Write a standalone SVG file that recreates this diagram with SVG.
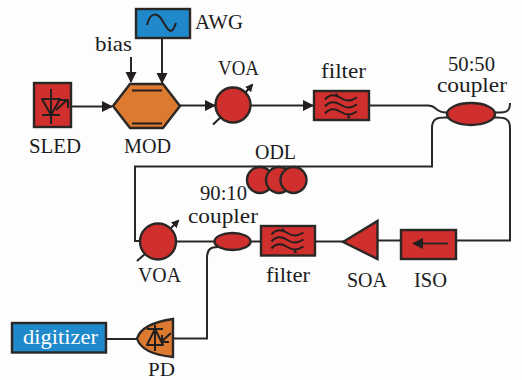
<svg xmlns="http://www.w3.org/2000/svg" width="522" height="380" viewBox="0 0 522 380">
<defs>
<style>
text{font-family:"Liberation Serif","DejaVu Serif",serif;font-size:21px;fill:#1c1c1c}
text.c{font-size:20px}
.w{fill:none;stroke:#2b2725;stroke-width:2;stroke-linejoin:miter}
.i{fill:none;stroke:#231f1e;stroke-width:2;stroke-linejoin:round}
.b{stroke:#2b2725;stroke-width:2.400;stroke-linejoin:miter}
.r{fill:#cf2f2d}.o{fill:#dc7a30}.u{fill:#2089cb}
.t{fill:#231f1e;stroke:none}
</style>
<marker id="a" markerUnits="userSpaceOnUse" markerWidth="12" markerHeight="12" refX="10" refY="6" orient="auto"><path d="M0 0.500L11 6L0 11.500Z" fill="#231f1e"/></marker>
<marker id="s" markerUnits="userSpaceOnUse" markerWidth="8" markerHeight="8" refX="6" refY="4" orient="auto"><path d="M0 0L8 4L0 8Z" fill="#231f1e"/></marker>
<g id="filt">
<path class="i" d="M-16 -6C-11 -12 -6 -11 -1 -8S8 -3 16 -8M-16 1C-11 -5 -6 -4 -1 -1S8 4 16 -1M-16 8C-11 2 -6 3 -1 6S8 11 16 6"/>
<path class="t" d="M-5 -13L-2 -9L-6 -9ZM7 9L10 12L6 13Z"/>
</g>
</defs>
<rect width="522" height="380" fill="#fdfdfd"/>
<g id="connectors">
<path class="w" d="M71 106.500H112" marker-end="url(#a)"/>
<path class="w" d="M131 57V82" marker-end="url(#a)"/>
<path class="w" d="M162 38V83" marker-end="url(#a)"/>
<path class="w" d="M180 105.500H215" marker-end="url(#a)"/>
<path class="w" d="M250 105.500H313" marker-end="url(#a)"/>
<path class="w" d="M369 105.500H428C438 105.500 434 113 448 112.500"/>
<path class="w" d="M494 112.500C506 113 510 112 510 103"/>
<path class="w" d="M494 117.500C504 117 510 118 510 128V240.500H456"/>
<path class="w" d="M448 117.500C438 117 432 118 432 128V166.500H135V241H141"/>
<path class="w" d="M176 241.500H214"/>
<path class="w" d="M250 241.500H261"/>
<path class="w" d="M315 241.500H344"/>
<path class="w" d="M378 240.500H401"/>
<path class="w" d="M218 247C211 247 207 249 207 258V338.500H173"/>
<path class="w" d="M106 339H137"/>
</g>
<g id="awg"><rect class="b u" x="136" y="9" width="54" height="29"/>
<path class="i" d="M147 25C150 12 157 12 162 20S171 38 176 23"/>
<text x="195" y="29" textLength="48" lengthAdjust="spacingAndGlyphs">AWG</text></g>
<g id="bias"><text x="95" y="51" textLength="37" lengthAdjust="spacingAndGlyphs">bias</text></g>
<g id="sled"><rect class="b r" x="34" y="83" width="37" height="44"/>
<path class="i" d="M51 89V124M42 99H60L51 115ZM42 115H60M56 110L67 100M60 100H68V108"/>
<text x="29" y="153" textLength="52" lengthAdjust="spacingAndGlyphs">SLED</text></g>
<g id="mod"><path class="b o" d="M113 106L130 84H163L180 106L163 128H130Z"/>
<path class="i" d="M132 90.500H162M132 123.500H162"/>
<text x="124" y="153" textLength="47" lengthAdjust="spacingAndGlyphs">MOD</text></g>
<g id="voa1"><circle class="b r" cx="233" cy="105" r="17.500"/>
<path class="i" d="M213 124.500L221 117"/><path class="i" d="M245 93L252 85" marker-end="url(#s)"/>
<text x="218" y="75" textLength="41" lengthAdjust="spacingAndGlyphs">VOA</text></g>
<g id="filter1"><rect class="b r" x="314" y="91" width="55" height="29"/>
<use href="#filt" x="341" y="105.500"/>
<text x="321" y="78" textLength="45" lengthAdjust="spacingAndGlyphs">filter</text></g>
<g id="coupler5050"><ellipse class="b r" cx="471" cy="114" rx="24" ry="11"/>
<text class="c" x="448" y="71" textLength="47" lengthAdjust="spacingAndGlyphs">50:50</text>
<text class="c" x="437" y="92" textLength="70" lengthAdjust="spacingAndGlyphs">coupler</text></g>
<g id="odl"><circle class="b r" cx="260" cy="180" r="13"/><circle class="b r" cx="279" cy="180" r="13"/><circle class="b r" cx="293.500" cy="180" r="13"/>
<text x="255" y="159" textLength="41" lengthAdjust="spacingAndGlyphs">ODL</text></g>
<g id="voa2"><circle class="b r" cx="158" cy="241.500" r="18"/>
<path class="i" d="M137 261L145 254"/><path class="i" d="M171 228L178 221" marker-end="url(#s)"/>
<text x="138" y="281.500" textLength="43" lengthAdjust="spacingAndGlyphs">VOA</text></g>
<g id="coupler9010"><ellipse class="b r" cx="232.500" cy="241.500" rx="18" ry="8.500"/>
<text class="c" x="200" y="200" textLength="47" lengthAdjust="spacingAndGlyphs">90:10</text>
<text class="c" x="188" y="222.500" textLength="70" lengthAdjust="spacingAndGlyphs">coupler</text></g>
<g id="filter2"><rect class="b r" x="261" y="226" width="54" height="29.500"/>
<use href="#filt" x="287.500" y="240.500"/>
<text x="266" y="281.500" textLength="44" lengthAdjust="spacingAndGlyphs">filter</text></g>
<g id="soa"><path class="b r" d="M343 242L377.500 221V259Z"/>
<text x="347" y="286.500" textLength="40" lengthAdjust="spacingAndGlyphs">SOA</text></g>
<g id="iso"><rect class="b r" x="401" y="230" width="55" height="29"/>
<path class="w" d="M448 243.500H416"/><path class="t" d="M412 243.500L423 238V249Z"/>
<text x="414" y="286.500" textLength="33" lengthAdjust="spacingAndGlyphs">ISO</text></g>
<g id="pd"><path class="b o" d="M173 319V357C152 355 140 348 137 338.500C140 329 152 322 173 319Z"/>
<path class="i" d="M155 325V351M147 329H163M155 329L147 345H163ZM171 333L161 342M162 335V342H169"/>
<text x="148" y="376" textLength="27" lengthAdjust="spacingAndGlyphs" style="font-size:18.500px">PD</text></g>
<g id="digitizer"><rect class="b u" x="12" y="323" width="94" height="29.500"/>
<text x="23" y="344" textLength="75" lengthAdjust="spacingAndGlyphs" style="fill:#fff">digitizer</text></g>
</svg>
